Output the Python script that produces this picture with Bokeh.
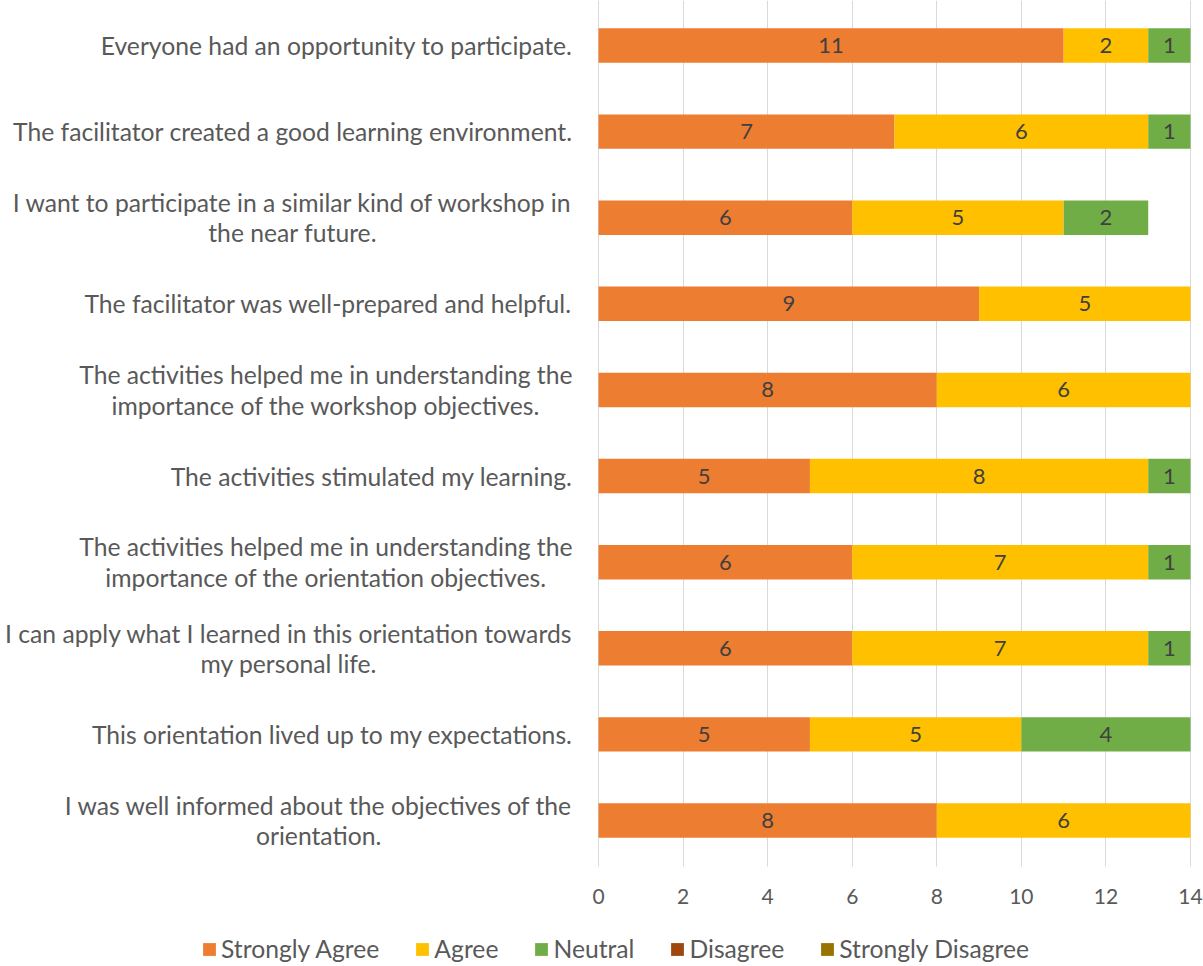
from bokeh.plotting import figure
from bokeh.models import ColumnDataSource, FixedTicker, Legend, LegendItem, Label
from bokeh.core.properties import value
from bokeh.embed import file_html
from bokeh.resources import INLINE

# Categories listed top to bottom
questions = [
    "Everyone had an opportunity to participate.",
    "The facilitator created a good learning environment.",
    "I want to participate in a similar kind of workshop in\nthe near future.",
    "The facilitator was well-prepared and helpful.",
    "The activities helped me in understanding the\nimportance of the workshop objectives.",
    "The activities stimulated my learning.",
    "The activities helped me in understanding the\nimportance of the orientation objectives.",
    "I can apply what I learned in this orientation towards\nmy personal life.",
    "This orientation lived up to my expectations.",
    "I was well informed about the objectives of the\norientation.",
]
strongly_agree = [11, 7, 6, 9, 8, 5, 6, 6, 5, 8]
agree = [2, 6, 5, 5, 6, 8, 7, 7, 5, 6]
neutral = [1, 1, 2, 0, 0, 1, 1, 1, 4, 0]
disagree = [0, 0, 0, 0, 0, 0, 0, 0, 0, 0]
strongly_disagree = [0, 0, 0, 0, 0, 0, 0, 0, 0, 0]

series_names = ["Strongly Agree", "Agree", "Neutral", "Disagree", "Strongly Disagree"]
series_keys = ["sa", "a", "n", "d", "sd"]
colors = ["#ED7D31", "#FFC000", "#70AD47", "#9E480E", "#997300"]
x_ticks = [0, 2, 4, 6, 8, 10, 12, 14]

FONT = "Lato"
CAT_SIZE = "24.7px"
n = len(questions)
ypos = [n - 1 - i for i in range(n)]  # top question at highest y

Y_TOP = 9.5226      # top edge of the plotting band
Y_BASE = -0.5354    # where the value axis sits
Y_BOTTOM = -1.6956  # room below for tick labels and legend

data = dict(y=ypos, sa=strongly_agree, a=agree, n=neutral, d=disagree, sd=strongly_disagree)
source = ColumnDataSource(data)

# frame spans the whole canvas; labels live at negative x, legend below the axis
p = figure(width=1203, height=966, frame_width=1203, frame_height=966,
           output_backend="svg", toolbar_location=None,
           x_range=(-14.142, 14.307), y_range=(Y_BOTTOM, Y_TOP),
           min_border_left=0, min_border_right=0, min_border_top=0, min_border_bottom=0)

renderers = p.hbar_stack(series_keys, y="y", height=0.4, color=colors, source=source,
                         line_color=None)

# data labels (centered in each segment)
lx, ly, lt = [], [], []
series_vals = [strongly_agree, agree, neutral, disagree, strongly_disagree]
for i in range(n):
    left = 0
    for vals in series_vals:
        v = vals[i]
        if v > 0:
            lx.append(left + v / 2)
            ly.append(ypos[i])
            lt.append(str(v))
        left += v
p.text(x=lx, y=ly, text=lt, text_align="center", text_baseline="middle",
       text_font=value(FONT), text_font_size="22px", text_color="#404040")

# category labels: block right-aligned beside the value axis, lines centered within block
for i in range(n):
    p.add_layout(Label(x=0, y=ypos[i], x_offset=-26, text=questions[i],
                       anchor="center_right", text_align="center",
                       text_font=FONT, text_font_size=CAT_SIZE, text_color="#595959",
                       text_line_height=1.05))

legend = Legend(items=[LegendItem(label=nm, renderers=[r]) for nm, r in zip(series_names, renderers)],
                orientation="horizontal", location=(201, 3),
                label_text_font=FONT, label_text_font_size=CAT_SIZE, label_text_color="#595959",
                glyph_width=16, glyph_height=16, label_standoff=4, spacing=35,
                label_height=20, border_line_color=None, background_fill_alpha=0,
                padding=0, margin=0)
p.add_layout(legend, "center")

xa = p.xaxis[0]
xa.ticker = FixedTicker(ticks=x_ticks)
xa.bounds = (0, 14)
xa.fixed_location = Y_BASE
xa.axis_line_color = None
xa.major_tick_line_color = None
xa.minor_tick_line_color = None
xa.major_tick_out = 0
xa.major_tick_in = 0
xa.minor_tick_out = 0
xa.minor_tick_in = 0
xa.major_label_text_font = FONT
xa.major_label_text_color = "#595959"
xa.major_label_text_font_size = "21px"
xa.major_label_standoff = 22
p.yaxis.visible = False

p.ygrid.grid_line_color = None
g = p.xgrid[0]
g.ticker = FixedTicker(ticks=x_ticks)
g.bounds = (0, 14)
g.cross_bounds = (Y_BASE, Y_TOP)
g.grid_line_color = "#D9D9D9"
g.grid_line_width = 1
p.outline_line_color = None
p.background_fill_color = "white"
p.border_fill_color = "white"

open("out.html", "w").write(file_html(p, INLINE))
